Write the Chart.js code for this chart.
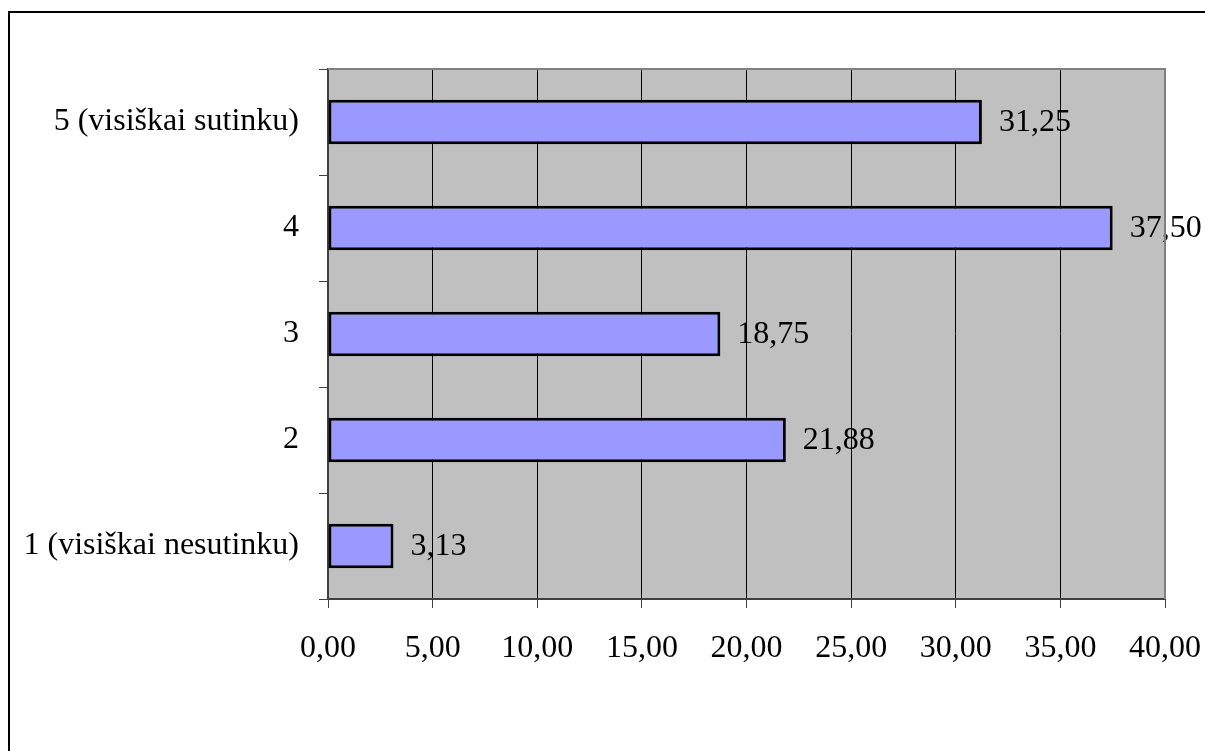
<!DOCTYPE html>
<html>
<head>
<meta charset="utf-8">
<script src="https://cdn.jsdelivr.net/npm/chart.js@4/dist/chart.umd.min.js"></script>
<style>
  html, body { margin: 0; padding: 0; background: #ffffff; }
  #wrap { position: relative; width: 1205px; height: 751px; overflow: hidden; }
  canvas { display: block; }
</style>
</head>
<body>
<div id="wrap"><canvas id="c" width="1205" height="751"></canvas></div>
<script>
// Answer categories, listed top to bottom
const categories = [
  '5 (visiškai sutinku)',
  '4',
  '3',
  '2',
  '1 (visiškai nesutinku)'
];
// Share of respondents, %
const values = [31.25, 37.50, 18.75, 21.88, 3.13];
// Value axis
const axisMin = 0;
const axisMax = 40;
const axisStep = 5;

const FONT = '"Liberation Serif", "Times New Roman", serif';
const FONT_SIZE = 32;

function fmt(v) {
  return Number(v).toFixed(2).replace('.', ',');
}

// Grey plot background plus value labels (drawn under the grid lines)
const plotBackground = {
  id: 'plotBackground',
  beforeDraw(chart) {
    const { ctx, chartArea: a } = chart;
    ctx.save();
    ctx.fillStyle = '#c0c0c0';
    ctx.fillRect(a.left, a.top, a.right - a.left, a.bottom - a.top);

    const meta = chart.getDatasetMeta(0);
    ctx.fillStyle = '#000000';
    ctx.font = FONT_SIZE + 'px ' + FONT;
    ctx.textAlign = 'left';
    ctx.textBaseline = 'middle';
    meta.data.forEach((bar, i) => {
      ctx.fillText(fmt(values[i]), bar.x + 17, bar.y + 1);
    });
    ctx.restore();
  },
  beforeDatasetsDraw(chart) {
    const { ctx, chartArea: a } = chart;
    ctx.save();
    ctx.strokeStyle = '#808080';
    ctx.lineWidth = 2;
    ctx.beginPath();
    ctx.moveTo(a.left, a.top);
    ctx.lineTo(a.right, a.top);
    ctx.lineTo(a.right, a.bottom);
    ctx.stroke();
    ctx.restore();
  },
  afterDraw(chart) {
    // outer frame of the chart object
    const { ctx } = chart;
    ctx.save();
    ctx.strokeStyle = '#000000';
    ctx.lineWidth = 2;
    ctx.beginPath();
    ctx.moveTo(9, 760);
    ctx.lineTo(9, 12);
    ctx.lineTo(1215, 12);
    ctx.stroke();
    ctx.restore();
  }
};

new Chart(document.getElementById('c'), {
  type: 'bar',
  data: {
    labels: categories,
    datasets: [{
      data: values,
      backgroundColor: '#9999ff',
      borderColor: '#000000',
      borderWidth: 3,
      borderSkipped: false,
      barPercentage: 0.42,
      categoryPercentage: 1.0
    }]
  },
  options: {
    indexAxis: 'y',
    responsive: false,
    animation: false,
    layout: { padding: { top: 69, right: 40, bottom: 0, left: 0 } },
    plugins: {
      legend: { display: false },
      tooltip: { enabled: false },
      title: { display: false }
    },
    scales: {
      x: {
        type: 'linear',
        min: axisMin,
        max: axisMax,
        afterFit(scale) {
          scale.height = 152;
          // end labels may hang over the side margins
          scale.paddingLeft = 0;
          scale.paddingRight = 0;
        },
        ticks: {
          stepSize: axisStep,
          color: '#000000',
          font: { family: FONT, size: FONT_SIZE },
          padding: 21,
          maxRotation: 0,
          callback: (v) => fmt(v)
        },
        grid: {
          color: '#000000',
          lineWidth: 1,
          tickColor: '#404040',
          tickLength: 9,
          drawTicks: true
        },
        border: { color: '#404040', width: 2 }
      },
      y: {
        type: 'category',
        afterFit(scale) { scale.width = 328; },
        ticks: {
          color: '#000000',
          font: { family: FONT, size: FONT_SIZE },
          padding: 20
        },
        grid: {
          drawOnChartArea: false,
          drawTicks: true,
          tickLength: 9,
          tickColor: '#404040',
          color: '#404040',
          lineWidth: 1,
          offset: true
        },
        border: { color: '#404040', width: 2 }
      }
    }
  },
  plugins: [plotBackground]
});
</script>
</body>
</html>
